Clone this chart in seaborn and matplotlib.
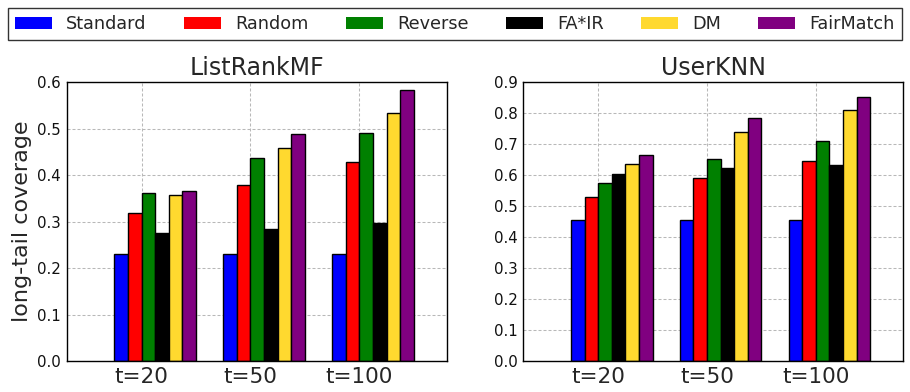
import numpy as np
import pandas as pd
import matplotlib
matplotlib.use("Agg")
import matplotlib.pyplot as plt
import seaborn as sns
from matplotlib.patches import Patch

methods = ["Standard", "Random", "Reverse", "FA*IR", "DM", "FairMatch"]
colors = ["#0000ff", "#ff0000", "#008000", "#000000", "#ffd92f", "#800080"]
t_labels = ["t=20", "t=50", "t=100"]

listrankmf = {
    "Standard":  [0.230, 0.230, 0.230],
    "Random":    [0.318, 0.378, 0.428],
    "Reverse":   [0.361, 0.436, 0.490],
    "FA*IR":     [0.276, 0.284, 0.297],
    "DM":        [0.357, 0.458, 0.534],
    "FairMatch": [0.367, 0.488, 0.583],
}
userknn = {
    "Standard":  [0.454, 0.454, 0.454],
    "Random":    [0.530, 0.590, 0.645],
    "Reverse":   [0.574, 0.652, 0.711],
    "FA*IR":     [0.604, 0.623, 0.633],
    "DM":        [0.635, 0.740, 0.811],
    "FairMatch": [0.664, 0.784, 0.852],
}

def to_df(d):
    rows = []
    for m in methods:
        for t, v in zip(t_labels, d[m]):
            rows.append({"t": t, "method": m, "value": v})
    return pd.DataFrame(rows)

sns.set_style("white")
plt.rcParams["font.family"] = ["DejaVu Sans"]

fig = plt.figure(figsize=(9.1, 3.92), dpi=100)
ax1 = fig.add_axes([0.0733, 0.0791, 0.4179, 0.711])
ax2 = fig.add_axes([0.5751, 0.0791, 0.4176, 0.711])

panels = [(ax1, listrankmf, "ListRankMF", 0.6), (ax2, userknn, "UserKNN", 0.9)]
for ax, data, title, ymax in panels:
    df = to_df(data)
    sns.barplot(data=df, x="t", y="value", hue="method", hue_order=methods,
                order=t_labels, palette=colors, width=0.75, saturation=1,
                edgecolor="black", linewidth=1, ax=ax, legend=False, errorbar=None)
    ax.set_xticks([k - 0.125 for k in range(3)])
    ax.set_xticklabels(t_labels, fontsize=15.5)
    ax.set_xlim(-0.812, 2.679)
    ax.set_ylim(0, ymax)
    yt = np.round(np.arange(0, ymax + 0.001, 0.1), 1)
    ax.set_yticks(yt)
    ax.set_yticklabels([f"{v:.1f}" for v in yt], fontsize=10.8, color="#111111")
    ax.tick_params(axis="both", which="major", length=0, pad=4)
    ax.grid(True, linestyle=(0, (2.9, 1.9)), color="#b8b8b8", linewidth=0.75)
    ax.set_axisbelow(True)
    ax.set_title(title, fontsize=17, pad=5)
    ax.set_xlabel("")
    ax.set_ylabel("")
    for s in ax.spines.values():
        s.set_color("black")
        s.set_linewidth(1)

ax1.set_ylabel("long-tail coverage", fontsize=16)

handles = [Patch(facecolor=c, edgecolor="none", label=m) for m, c in zip(methods, colors)]
leg = fig.legend(handles=handles, loc="lower left", ncol=6, mode="expand",
                 bbox_to_anchor=(8 / 910, 1 - 40 / 392, 894 / 910, 33 / 392),
                 fontsize=12.7, frameon=True, fancybox=False, handlelength=2.1,
                 borderaxespad=0, handletextpad=0.8)
leg.get_frame().set_edgecolor("black")
leg.get_frame().set_linewidth(1)

fig.savefig("out.png", dpi=100)
